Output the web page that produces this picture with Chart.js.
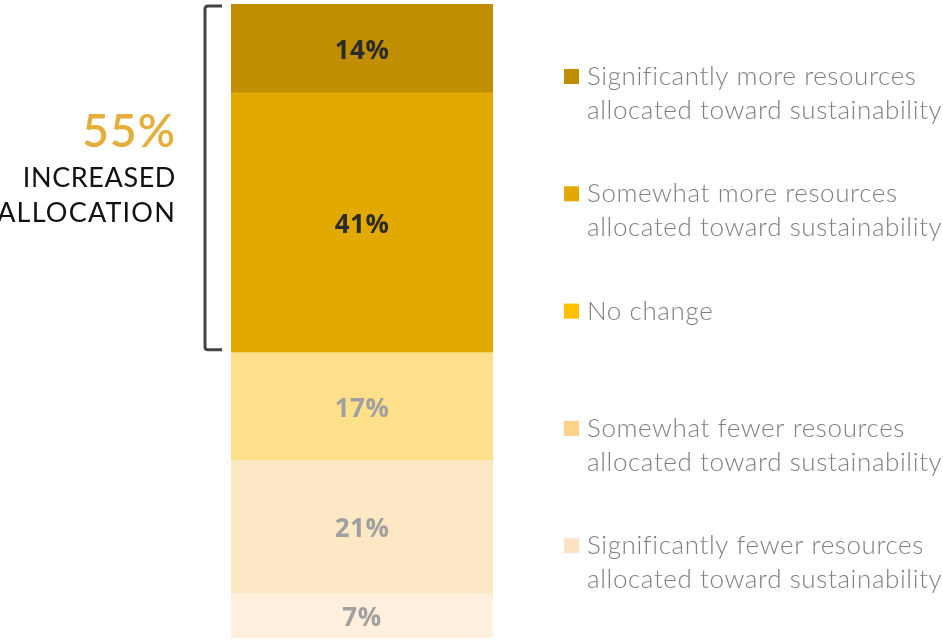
<!DOCTYPE html>
<html>
<head>
<meta charset="utf-8">
<script src="https://cdn.jsdelivr.net/npm/chart.js@4"></script>
<style>
  html, body { margin: 0; padding: 0; background: #ffffff; }
  #wrap { position: relative; width: 943px; height: 640px; }
</style>
</head>
<body>
<div id="wrap"><canvas id="chart" width="943" height="640"></canvas></div>
<script>
// Response categories, top of the bar first
const categories = [
  'Significantly more resources\nallocated toward sustainability',
  'Somewhat more resources\nallocated toward sustainability',
  'No change',
  'Somewhat fewer resources\nallocated toward sustainability',
  'Significantly fewer resources\nallocated toward sustainability'
];
// Share of respondents (%)
const shares = [14, 41, 17, 21, 7];
// Fill of each bar segment
const segmentColors = ['#C08E00', '#E2A900', '#FEDF8A', '#FDE8C5', '#FEF0DC'];
// Swatch colours in the legend
const swatchColors = ['#C08E00', '#E2A900', '#FFC000', '#FDD38A', '#FDE3C2'];
// Label colours inside the segments
const valueLabelColors = ['#2B2B2B', '#2B2B2B', '#A0A0A0', '#A0A0A0', '#A0A0A0'];
// The "increased" group = first two categories
const increasedCount = 2;
const increasedTitle = ['INCREASED', 'ALLOCATION'];

// Chart.js stacks from the bottom up, so feed the datasets in reverse
const order = categories.map((_, i) => i).reverse();
const datasets = order.map(i => ({
  label: categories[i],
  data: [shares[i]],
  backgroundColor: segmentColors[i],
  borderWidth: 0,
  barPercentage: 1,
  categoryPercentage: 1,
  _idx: i
}));

const annotate = {
  id: 'annotate',
  afterDatasetsDraw(chart) {
    const ctx = chart.ctx;
    const y = chart.scales.y;
    const area = chart.chartArea;
    const cx = (area.left + area.right) / 2;

    // value labels centred in each segment
    chart.data.datasets.forEach((ds, di) => {
      const bar = chart.getDatasetMeta(di).data[0];
      const mid = (bar.y + bar.base) / 2;
      ctx.save();
      ctx.font = 'bold 26px "Open Sans", sans-serif';
      ctx.letterSpacing = '0.5px';
      ctx.fillStyle = valueLabelColors[ds._idx];
      ctx.textAlign = 'center';
      ctx.textBaseline = 'middle';
      ctx.fillText(shares[ds._idx] + '%', cx, mid + 3);
      ctx.restore();
    });

    // bracket over the "increased" segments
    const total = shares.reduce((a, b) => a + b, 0);
    const incTotal = shares.slice(0, increasedCount).reduce((a, b) => a + b, 0);
    const top = y.getPixelForValue(total) + 2;
    const bottom = y.getPixelForValue(total - incTotal) - 3;
    const bx = area.left - 26;
    const tip = area.left - 9;
    ctx.save();
    ctx.strokeStyle = '#444444';
    ctx.lineWidth = 3;
    ctx.lineJoin = 'round';
    ctx.lineCap = 'butt';
    ctx.beginPath();
    ctx.moveTo(tip, top);
    ctx.lineTo(bx + 3, top);
    ctx.quadraticCurveTo(bx, top, bx, top + 3);
    ctx.lineTo(bx, bottom - 3);
    ctx.quadraticCurveTo(bx, bottom, bx + 3, bottom);
    ctx.lineTo(tip, bottom);
    ctx.stroke();

    // headline number and caption
    const rx = 175;
    ctx.textAlign = 'right';
    ctx.textBaseline = 'alphabetic';
    ctx.fillStyle = '#E5AE3A';
    ctx.font = '600 46px Lato, sans-serif';
    ctx.letterSpacing = '1px';
    ctx.fillText(incTotal + '%', rx + 1, 147);
    ctx.fillStyle = '#111111';
    ctx.font = '27px Lato, sans-serif';
    ctx.letterSpacing = '0.6px';
    ctx.fillText(increasedTitle[0], rx + 1, 187);
    ctx.letterSpacing = '1.2px';
    ctx.fillText(increasedTitle[1], rx + 1, 222);
    ctx.restore();

    // legend
    ctx.save();
    const lx = 564, tx = 587;
    categories.forEach((c, i) => {
      const yc = 76 + i * 117.3;
      ctx.fillStyle = swatchColors[i];
      ctx.fillRect(lx, yc - 7, 15, 15);
      ctx.fillStyle = '#7F7F7F';
      ctx.font = '300 26px Lato, sans-serif';
      ctx.letterSpacing = '0.6px';
      ctx.textAlign = 'left';
      ctx.textBaseline = 'alphabetic';
      c.split('\n').forEach((line, li) => {
        ctx.fillText(line, tx, yc + 9 + li * 34);
      });
    });
    ctx.restore();
  }
};

new Chart(document.getElementById('chart'), {
  type: 'bar',
  data: { labels: [''], datasets },
  options: {
    responsive: false,
    animation: false,
    layout: { padding: { left: 231, right: 450, top: 4, bottom: 2 } },
    scales: {
      x: { stacked: true, display: false },
      y: { stacked: true, display: false, min: 0, max: 100 }
    },
    plugins: { legend: { display: false }, tooltip: { enabled: false } }
  },
  plugins: [annotate]
});
</script>
</body>
</html>
